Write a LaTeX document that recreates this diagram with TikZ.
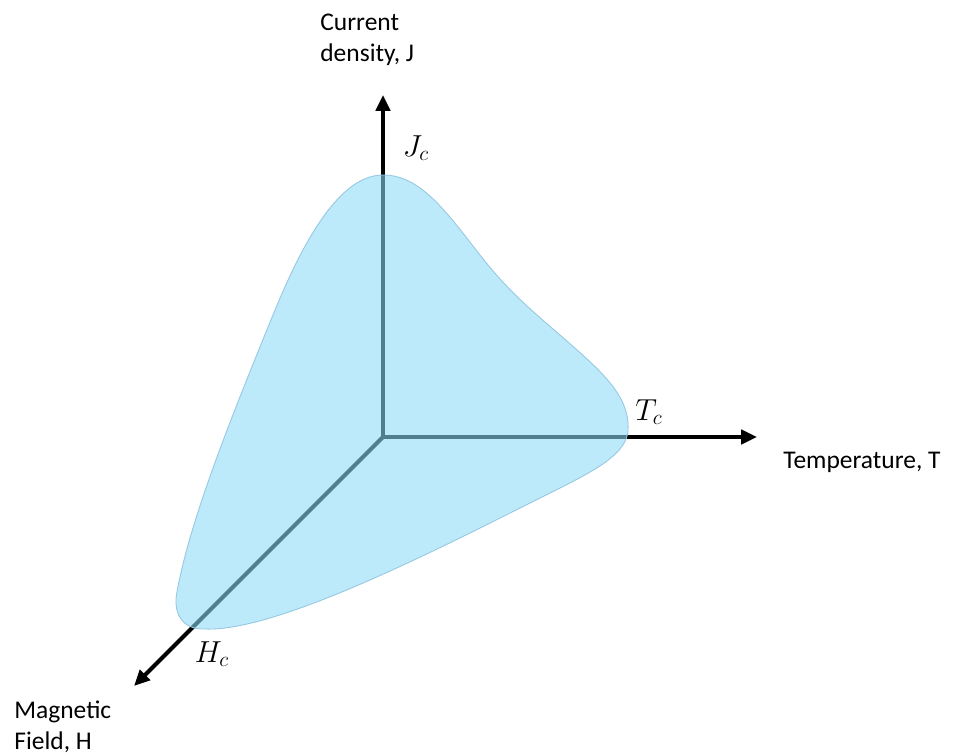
\documentclass[tikz,border=0pt]{standalone}
\usepackage{fontspec}
\setsansfont{Carlito}
\usetikzlibrary{arrows.meta}

\tikzset{
  axis/.style={line width=2.4pt,-{Triangle[length=9pt,width=8pt]}},
  axlabel/.style={font=\sffamily\fontsize{14.5}{17.5}\selectfont,align=left,inner sep=0pt},
  crit/.style={font=\fontsize{18}{21}\selectfont,inner sep=0pt}
}
\definecolor{sheet}{RGB}{140,218,246}
\definecolor{sheetedge}{RGB}{150,200,225}

\begin{document}
\begin{tikzpicture}[x=0.02cm,y=-0.02cm]
\useasboundingbox (0,0) rectangle (954,755);
\coordinate (O) at (383,437);
\coordinate (Jtip) at (383,95);
\coordinate (Ttip) at (757,437);
\coordinate (Htip) at (134,686);
\draw[axis] (O) -- (Jtip);
\draw[axis] (O) -- (Ttip);
\draw[axis] (O) -- (Htip);
\path[fill=sheet,fill opacity=0.58,draw=sheetedge,line width=0.5pt]
  (383,175) .. controls (420,175) and (445,210) .. (480,255)
  .. controls (505,287) and (525,305) .. (560,335)
  .. controls (600,370) and (630,395) .. (628,430)
  .. controls (627,452) and (600,468) .. (560,488)
  .. controls (450,543) and (280,632) .. (205,629)
  .. controls (180,630) and (173,610) .. (177,592)
  .. controls (190,520) and (230,420) .. (275,310)
  .. controls (310,225) and (345,175) .. cycle;
\node[crit] (Jc) at (416,148) {$J_c$};
\node[crit] (Tc) at (649,412) {$T_c$};
\node[crit] (Hc) at (212,654) {$H_c$};
\node[axlabel,anchor=north west] (Jlab) at (320,14) {Current\\density, J};
\node[axlabel,anchor=west] (Tlab) at (783,462) {Temperature, T};
\node[axlabel,anchor=north west] (Hlab) at (14,701) {Magnetic\\Field, H};
\end{tikzpicture}
\end{document}
